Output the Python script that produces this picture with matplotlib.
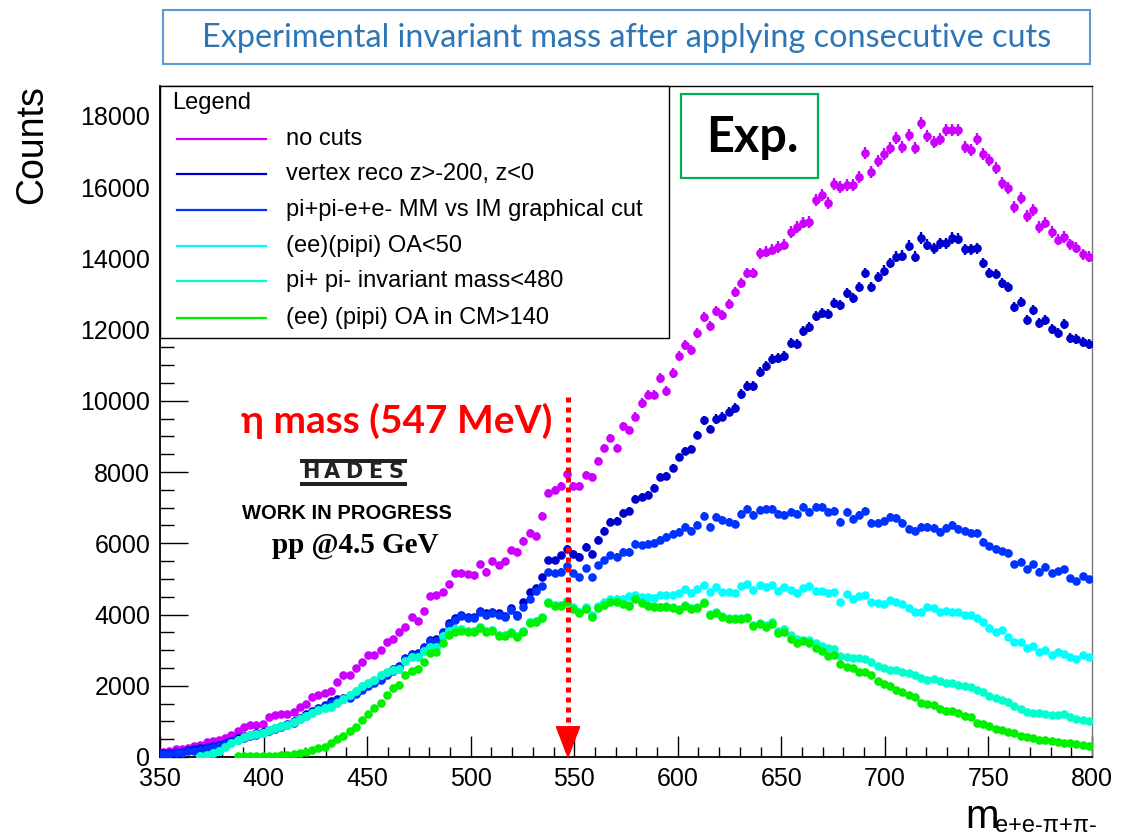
import numpy as np
import matplotlib
matplotlib.use("Agg")
import matplotlib.pyplot as plt
from matplotlib.patches import Rectangle, Polygon
from matplotlib.lines import Line2D
from matplotlib.ticker import MultipleLocator

plt.rcParams['font.family'] = ['Liberation Sans', 'DejaVu Sans']

# ---------------- data (3 MeV bins from 350 to 800 MeV) ----------------
BIN_LO, BIN_HI, BIN_W = 350, 800, 3
nan = np.nan

no_cuts = [
    140, 180, 220, 230, 260, 300, 340, 420, 450, 480,
    540, 620, 720, 850, 900, 900, 930, 1120, 1170, 1200,
    1220, 1260, 1400, 1500, 1690, 1740, 1800, 1850, 2100, 2300,
    2300, 2500, 2670, 2860, 2860, 3000, 3230, 3320, 3510,
    3650, 3930, 3820, 4100, 4520, 4550, 4630, 4860, 5170, 5170,
    5140, 5110, 5420, 5200, 5500, 5390, 5500, 5810, 5760, 6070,
    6290, 6200, 6770, 7410, 7500, 7610, 7950, 7610, 7610, 7920,
    7860, 8310, 8680, 8960, 8680, 9290, 9180, 9550,
    9940, 10170, 10170, 10640, 10280, 10780, 11260, 11570, 11430, 11900,
    12350, 12100, 12520, 12410, 12720, 13060, 13310, 13590, 13590, 14150,
    14180, 14240, 14320, 14380, 14740, 14880, 15000, 15020, 15640, 15780,
    15560, 16090, 16000, 16060, 16060, 16290, 16960, 16430,
    16740, 16930, 17100, 17380, 17130, 17470, 17100, 17800, 17440, 17270,
    17350, 17610, 17610, 17610, 17130, 17040, 17350, 16930, 16760, 16540,
    16120, 15980, 15440, 15700, 15190, 15360, 14880, 15000, 14740, 14520,
    14600, 14400, 14300, 14120, 14050,
]

vertex = [
    110, 120, 130, 150, 200, 220, 240, 280, 310, 350,
    400, 450, 530, 580, 620, 660, 700, 760, 820, 870,
    940, 1000, 1100, 1200, 1300, 1380, 1470, 1560, 1620, 1670,
    1700, 1810, 1930, 2030, 2120, 2200, 2350, 2460, 2560,
    2780, 2890, 2920, 3090, 3290, 3310, 3510, 3760, 3900, 3990,
    3930, 3930, 4100, 4040, 4070, 4040, 3960, 4180, 3990, 4350,
    4630, 4750, 5050, 5530, 5530, 5670, 5840, 5700, 5620, 5900,
    5700, 6090, 6350, 6600, 6630, 6850, 6910, 7240,
    7300, 7360, 7550, 7860, 7890, 8110, 8420, 8590, 8650, 9040,
    9460, 9210, 9490, 9550, 9690, 9800, 10190, 10420, 10420, 10810,
    10980, 11180, 11200, 11260, 11630, 11600, 11960, 12070, 12380, 12470,
    12440, 12750, 12690, 13030, 12890, 13200, 13590, 13200,
    13480, 13650, 13870, 14040, 14070, 14350, 14040, 14570, 14380, 14290,
    14430, 14430, 14570, 14550, 14260, 14260, 14290, 13870, 13590, 13560,
    13310, 13200, 12640, 12780, 12270, 12550, 12190, 12270, 12020, 11910,
    12160, 11770, 11740, 11650, 11600,
]

mm_vs_im = [
    80, 90, 100, 120, 160, 180, 200, 240, 270, 310,
    360, 410, 490, 540, 580, 620, 660, 720, 780, 830,
    900, 960, 1060, 1160, 1260, 1340, 1430, 1520, 1580, 1630,
    1660, 1770, 1890, 1990, 2080, 2160, 2310, 2420, 2520,
    2740, 2850, 2880, 3050, 3250, 3270, 3470, 3720, 3860, 3950,
    3890, 3890, 4060, 4000, 4030, 4000, 3920, 4140,
    3950, 4200, 4450, 4650, 4800, 5190, 5170, 5200, 5360, 5170,
    5050, 5310, 5050, 5390, 5530, 5670, 5620, 5760, 5760, 5980,
    5950, 5980, 6010, 6090, 6180, 6260, 6320, 6460, 6350, 6510,
    6770, 6460, 6740, 6660, 6600, 6540, 6820, 6960, 6800, 6940,
    6960, 6960, 6820, 6800, 6880, 6820, 7020, 6880, 7020, 7020,
    6880, 6910, 6600, 6880, 6680, 6800, 6910, 6570,
    6570, 6630, 6740, 6710, 6570, 6400, 6350, 6460, 6460, 6430,
    6320, 6430, 6510, 6400, 6350, 6290, 6290, 6040, 5920, 5840,
    5780, 5730, 5420, 5480, 5280, 5420, 5200, 5340, 5170, 5220,
    5280, 5030, 4940, 5080, 5000,
]

oa_lt_50 = [
    nan, nan, nan, nan, nan, nan,
    30, 70, 110, 170, 270, 380, 470, 550, 610, 640,
    680, 760, 820, 860, 910, 970, 1060, 1140, 1230, 1310,
    1370, 1400, 1520, 1640, 1730, 1850, 1990, 2090, 2150, 2300,
    2380, 2430, 2470,
    2700, 2810, 2810, 2980, 3090, 3090, 3400, 3550, 3580, 3600,
    3540, 3540, 3640, 3530, 3560, 3420, 3420, 3500, 3390, 3530, 3780, 3810, 3920,
    4340, 4260, 4260, 4370, 4200, 4080, 4200, 3980, 4250, 4350, 4430, 4450, 4450, 4520,
    4550,
    4490, 4490, 4470, 4550, 4550, 4550, 4600, 4720, 4600, 4720,
    4830, 4630, 4770, 4630, 4630, 4600, 4800, 4860, 4690, 4830,
    4770, 4830, 4660, 4770, 4690, 4600, 4750, 4800, 4660, 4660,
    4600, 4630, 4350, 4580, 4440, 4520, 4550, 4350, 4320, 4300,
    4410, 4350, 4300, 4190, 4070, 4070, 4210, 4190, 4070, 4100,
    4070, 4070, 3990, 3990, 3900, 3790, 3620, 3510, 3570, 3370,
    3230, 3230, 3060, 3120, 2950, 3000, 2860, 2950, 2890, 2810,
    2750, 2860, 2800,
]

pipi_im_lt_480 = oa_lt_50[:62] + [
    4340, 4260, 4260, 4370, 4180, 4060, 4180, 3950, 4200, 4290,
    4370, 4370, 4320, 4260, 4460,
    4340, 4260, 4230, 4220, 4230, 4200, 4150, 4260, 4180, 4210,
    4340, 4010, 4060, 3950, 3890, 3890, 3890, 3930, 3710, 3770,
    3700, 3790, 3550, 3600, 3420,
    3300, 3290, 3290, 3200, 3120, 3060, 3030, 2840, 2810, 2790,
    2780, 2760, 2670, 2560, 2500, 2450, 2440, 2390, 2360, 2300,
    2220, 2170, 2190, 2130, 2080, 2080, 2020, 1990, 1970, 1880,
    1820, 1710, 1670, 1610, 1550, 1430, 1340, 1260, 1240, 1240,
    1210, 1180, 1180, 1210, 1130, 1080, 1040, 1000,
]

oa_cm_gt_140 = [
    nan, nan, nan, nan, nan, nan, nan, nan, nan, nan, nan, nan,
    30, 30, 30, 30, 35, 40, 40, 45, 60, 90,
    120, 150, 190, 250, 290, 390, 500, 590, 720, 840,
    1030, 1200, 1380, 1520, 1740, 1940, 2020,
    2300, 2410, 2470, 2670, 2920, 2950, 3200, 3430, 3510, 3540,
    3510, 3510, 3620, 3510, 3540, 3400, 3400, 3480, 3370, 3510,
    3760, 3790, 3900, 4320, 4240, 4240, 4350, 4160, 4040, 4160,
    3930, 4180, 4270, 4350, 4350, 4300, 4240, 4440,
    4320, 4240, 4210, 4200, 4210, 4180, 4130, 4240, 4160, 4190,
    4320, 3990, 4040, 3930, 3870, 3870, 3870, 3900, 3680, 3730,
    3650, 3730, 3480, 3510, 3310, 3200, 3260, 3200, 3060, 2980,
    2840, 2860, 2610, 2530, 2500, 2390, 2390, 2300, 2130, 2050,
    1990, 1880, 1830, 1740, 1690, 1520, 1490, 1460, 1350, 1290,
    1290, 1240, 1150, 1120, 950, 930, 870, 790, 760, 700,
    670, 590, 560, 530, 480, 480, 450, 420, 390, 390,
    370, 340, 300,
]

labels = ["no cuts", "vertex reco z>-200, z<0", "pi+pi-e+e- MM vs IM graphical cut",
          "(ee)(pipi) OA<50", "pi+ pi- invariant mass<480", "(ee) (pipi) OA in CM>140"]
colors = ["#CC00FF", "#0000CC", "#0033FF", "#00FFFF", "#00FFCC", "#00F000"]
series = [no_cuts, vertex, mm_vs_im, oa_lt_50, pipi_im_lt_480, oa_cm_gt_140]

ETA_MASS = 547
ARROW_TOP = 10100

x_ticks = [350, 400, 450, 500, 550, 600, 650, 700, 750, 800]
y_ticks = [0, 2000, 4000, 6000, 8000, 10000, 12000, 14000, 16000, 18000]

mass = np.arange(BIN_LO + BIN_W / 2, BIN_HI, BIN_W)
for s in series:
    assert len(s) == len(mass), len(s)

# ---------------- figure ----------------
W, H = 1122, 839
fig = plt.figure(figsize=(W / 100, H / 100), dpi=100)

def fx(px):
    return px / W

def fy(py):
    return 1 - py / H

ax = fig.add_axes([fx(160), fy(757), fx(1092) - fx(160), fy(86) - fy(757)])
ax.set_xlim(BIN_LO, BIN_HI)
ax.set_ylim(0, 18840)

for i, (vals, col) in enumerate(zip(series, colors)):
    v = np.array(vals, dtype=float)
    ax.errorbar(mass, v, yerr=1.3 * np.sqrt(v), fmt='o', color=col, ms=6.2, mew=0,
                elinewidth=1.7, capsize=0, zorder=3 + i)

ax.set_xticks(x_ticks)
ax.set_yticks(y_ticks)
ax.xaxis.set_minor_locator(MultipleLocator(10))
ax.yaxis.set_minor_locator(MultipleLocator(500))
ax.tick_params(axis='both', which='both', direction='in', top=False, right=False,
               labelsize=18, width=1)
ax.tick_params(axis='x', which='major', length=15, pad=7.5)
ax.tick_params(axis='x', which='minor', length=7.5)
ax.tick_params(axis='y', which='major', length=20, pad=7)
ax.tick_params(axis='y', which='minor', length=10)
for sp in ['left', 'bottom']:
    ax.spines[sp].set_linewidth(1.3)
for sp in ['top', 'right']:
    ax.spines[sp].set_linewidth(1.0)
ax.spines['right'].set_color('#777777')

# eta-mass arrow
ax.plot([ETA_MASS, ETA_MASS], [ARROW_TOP, 800], color='red', lw=3.6,
        linestyle=(0, (1, 1)), dash_capstyle='butt', zorder=20)
ax.add_patch(Polygon([[ETA_MASS - 5.6, 850], [ETA_MASS + 5.6, 850], [ETA_MASS, 0]],
                     closed=True, color='red', zorder=20))

# y / x labels
fig.text(fx(32), fy(145), "Counts", rotation=90, fontsize=27, ha='center', va='center')
fig.text(fx(965), fy(828), "m", fontsize=29, ha='left', va='baseline')
fig.text(fx(995), fy(832), "e+e-π+π-", fontsize=17, ha='left', va='baseline')

# legend box
fig.add_artist(Rectangle((fx(160), fy(338)), fx(669) - fx(160), fy(86) - fy(338),
                         transform=fig.transFigure, facecolor='white', edgecolor='black',
                         lw=1.0, zorder=5))
fig.text(fx(172), fy(109), "Legend", fontsize=17, ha='left', va='baseline', zorder=6)
rows = [139, 174, 210, 246, 281, 318]
for yy, lab, col in zip(rows, labels, colors):
    fig.add_artist(Line2D([fx(177), fx(266)], [fy(yy), fy(yy)], transform=fig.transFigure,
                          color=col, lw=1.6, zorder=6))
    fig.text(fx(286), fy(yy), lab, fontsize=17, ha='left', va='center', zorder=6)

# title box
fig.add_artist(Rectangle((fx(163), fy(64)), fx(1090) - fx(163), fy(10) - fy(64),
                         transform=fig.transFigure, facecolor='white', edgecolor='#5B9BD5',
                         lw=1.5, zorder=5))
fig.text(fx(627), fy(38), "Experimental invariant mass after applying consecutive cuts",
         fontsize=23.3, color='#2E75B6', ha='center', va='center', family=['Lato', 'DejaVu Sans'],
         zorder=6)

# Exp. box
fig.add_artist(Rectangle((fx(681), fy(178)), fx(818) - fx(681), fy(94) - fy(178),
                         transform=fig.transFigure, facecolor='white', edgecolor='#00B050',
                         lw=1.6, zorder=5))
fig.text(fx(752), fy(138), "Exp.", fontsize=35, fontweight='bold', ha='center', va='center',
         family=['Lato', 'DejaVu Sans'], zorder=6)

# annotations
fig.text(fx(552), fy(433), "η mass (547 MeV)", fontsize=28, fontweight='bold', color='red',
         ha='right', va='baseline', family=['Lato', 'DejaVu Sans'], zorder=6)

# HADES logo
fig.add_artist(Rectangle((fx(300), fy(463)), fx(407) - fx(300), fy(459) - fy(463),
                         transform=fig.transFigure, facecolor='#222222', edgecolor='none', zorder=6))
fig.add_artist(Rectangle((fx(300), fy(486)), fx(407) - fx(300), fy(482) - fy(486),
                         transform=fig.transFigure, facecolor='#222222', edgecolor='none', zorder=6))
for k, ch in enumerate("HADES"):
    fig.text(fx(311 + 21.3 * k), fy(472.5), ch, fontsize=15, fontweight='bold', ha='center',
             va='center', family='DejaVu Sans', color='#222222', zorder=6)

fig.text(fx(347), fy(519), "WORK IN PROGRESS", fontsize=14.5, fontweight='bold', ha='center',
         va='baseline', zorder=6)
fig.text(fx(355), fy(553), "pp @4.5 GeV", fontsize=21, fontweight='bold', ha='center',
         va='baseline', family='Liberation Serif', zorder=6)

fig.savefig("out.png", dpi=100)
